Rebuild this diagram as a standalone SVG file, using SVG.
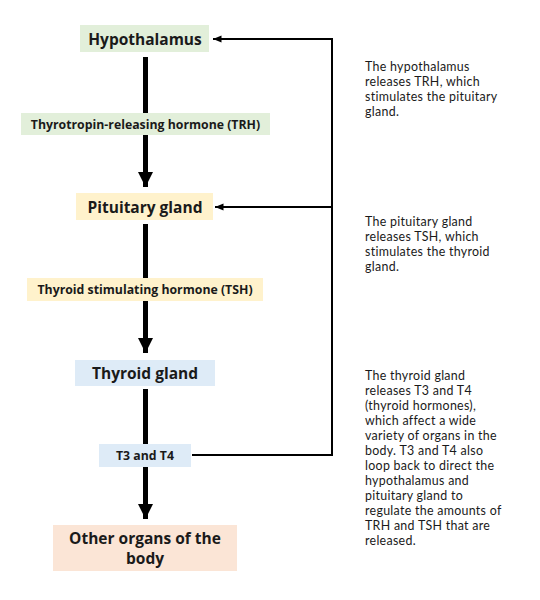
<svg xmlns="http://www.w3.org/2000/svg" width="540" height="600" viewBox="0 0 540 600">
<defs>
<marker id="big" markerUnits="userSpaceOnUse" markerWidth="16" markerHeight="16" refX="15" refY="8" orient="auto">
<path d="M0,0.5 L15,8 L0,15.5 Z" fill="#000"/>
</marker>
<marker id="small" markerUnits="userSpaceOnUse" markerWidth="9" markerHeight="8" refX="8.5" refY="4" orient="auto">
<path d="M0,0.5 L8.5,4 L0,7.5 Z" fill="#000"/>
</marker>
</defs>
<style>
.main{font-family:"Open Sans","Noto Sans","DejaVu Sans",sans-serif;font-weight:bold;fill:#1a1a1a;text-anchor:middle}
.big{font-size:15.5px}
.sm{font-size:12.3px}
.note{font-family:Lato,"Liberation Sans",sans-serif;font-size:12.4px;letter-spacing:0.3px;fill:#1a1a1a}
.shaft{stroke:#000;stroke-width:5;fill:none}
.fb{stroke:#000;stroke-width:2;fill:none}
</style>
<rect width="540" height="600" fill="#fff"/>
<g id="connectors">
<line class="shaft" x1="145.5" y1="57" x2="145.5" y2="187" marker-end="url(#big)"/>
<line class="shaft" x1="145.5" y1="224" x2="145.5" y2="353" marker-end="url(#big)"/>
<line class="shaft" x1="145.5" y1="389" x2="145.5" y2="519" marker-end="url(#big)"/>
<polyline class="fb" points="192,455 332,455 332,39 213,39" marker-end="url(#small)"/>
<line class="fb" x1="332" y1="207" x2="215" y2="207" marker-end="url(#small)"/>
</g>
<g id="hypothalamus">
<rect x="80" y="25" width="129" height="27" fill="#e2efda"/>
<text class="main big" x="145" y="44.5">Hypothalamus</text>
</g>
<g id="trh">
<rect x="21" y="113" width="249" height="22" fill="#e2efda"/>
<text class="main sm" x="145.5" y="128.5">Thyrotropin-releasing hormone (TRH)</text>
</g>
<g id="pituitary">
<rect x="76" y="193" width="137" height="27" fill="#fff2cc"/>
<text class="main big" x="145" y="212.5">Pituitary gland</text>
</g>
<g id="tsh">
<rect x="27" y="278" width="236" height="23" fill="#fff2cc"/>
<text class="main sm" x="145" y="294">Thyroid stimulating hormone (TSH)</text>
</g>
<g id="thyroid">
<rect x="75" y="360" width="140" height="26" fill="#deebf7"/>
<text class="main big" x="145" y="379">Thyroid gland</text>
</g>
<g id="t3t4">
<rect x="99" y="444" width="92" height="23" fill="#deebf7"/>
<text class="main sm" x="145" y="460">T3 and T4</text>
</g>
<g id="other">
<rect x="53" y="525" width="184" height="46" fill="#fbe5d6"/>
<text class="main big" x="145" y="543.5">Other organs of the</text>
<text class="main big" x="145" y="563.5">body</text>
</g>
<g id="note1">
<text class="note" x="365" y="71">The hypothalamus</text>
<text class="note" x="365" y="86">releases TRH, which</text>
<text class="note" x="365" y="101">stimulates the pituitary</text>
<text class="note" x="365" y="116">gland.</text>
</g>
<g id="note2">
<text class="note" x="365" y="226">The pituitary gland</text>
<text class="note" x="365" y="241">releases TSH, which</text>
<text class="note" x="365" y="256">stimulates the thyroid</text>
<text class="note" x="365" y="271">gland.</text>
</g>
<g id="note3">
<text class="note" x="365" y="380">The thyroid gland</text>
<text class="note" x="365" y="395">releases T3 and T4</text>
<text class="note" x="365" y="410">(thyroid hormones),</text>
<text class="note" x="365" y="425">which affect a wide</text>
<text class="note" x="365" y="440">variety of organs in the</text>
<text class="note" x="365" y="455">body. T3 and T4 also</text>
<text class="note" x="365" y="470">loop back to direct the</text>
<text class="note" x="365" y="485">hypothalamus and</text>
<text class="note" x="365" y="500">pituitary gland to</text>
<text class="note" x="365" y="515">regulate the amounts of</text>
<text class="note" x="365" y="530">TRH and TSH that are</text>
<text class="note" x="365" y="545">released.</text>
</g>
</svg>
